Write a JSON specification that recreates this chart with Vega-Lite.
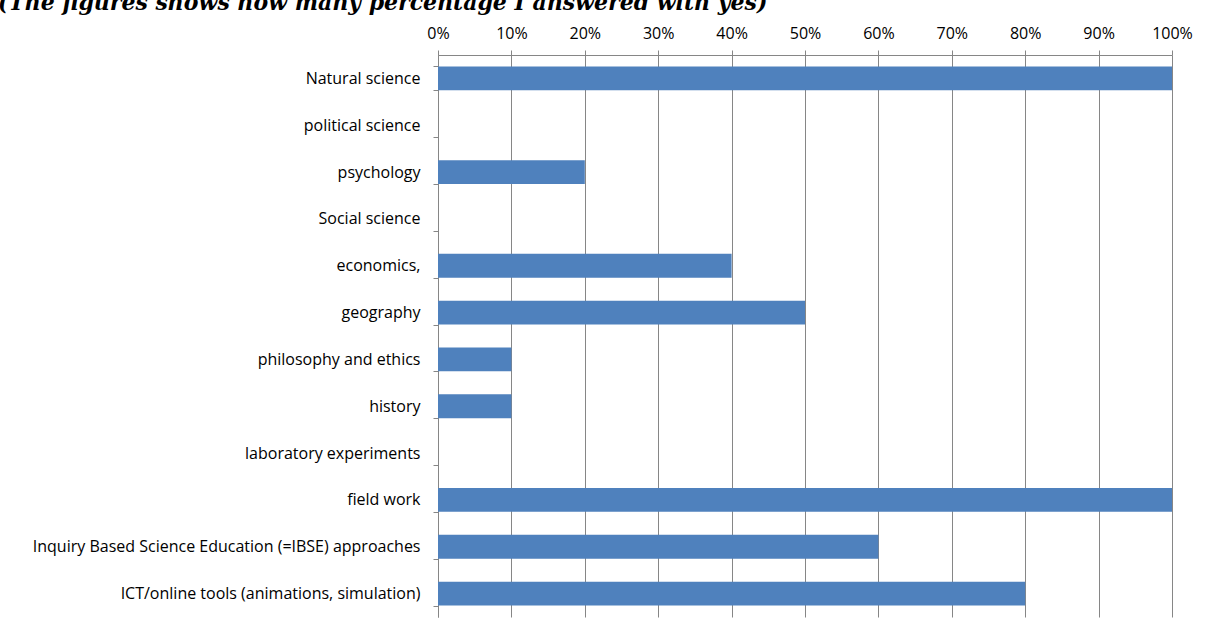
{
  "$schema": "https://vega.github.io/schema/vega-lite/v6.json",
  "autosize": "none",
  "width": 734,
  "height": 562,
  "padding": {"left": 438, "top": 55, "right": 35, "bottom": 11},
  "background": "white",
  "title": {
    "text": "(The figures shows how many percentage I answered with yes)",
    "anchor": "start",
    "frame": "group",
    "orient": "top",
    "dx": -440,
    "dy": 18,
    "offset": 11,
    "baseline": "alphabetic",
    "font": "DejaVu Serif",
    "fontSize": 22,
    "fontStyle": "italic",
    "fontWeight": "bold",
    "color": "#000000"
  },
  "data": {
    "values": [
      {"category": "Natural science", "share": 1.0},
      {"category": "political science", "share": 0},
      {"category": "psychology", "share": 0.2},
      {"category": "Social science", "share": 0},
      {"category": "economics,", "share": 0.4},
      {"category": "geography", "share": 0.5},
      {"category": "philosophy and ethics", "share": 0.1},
      {"category": "history", "share": 0.1},
      {"category": "laboratory experiments ", "share": 0},
      {"category": "field work ", "share": 1.0},
      {"category": "Inquiry Based Science Education (=IBSE) approaches ", "share": 0.6},
      {"category": "ICT/online tools (animations, simulation)", "share": 0.8}
    ]
  },
  "mark": {"type": "bar", "color": "#4F81BD"},
  "encoding": {
    "y": {
      "field": "category",
      "type": "nominal",
      "sort": null,
      "title": null,
      "scale": {"paddingInner": 0.49, "paddingOuter": 0.245},
      "axis": {
        "tickBand": "extent",
        "ticks": true,
        "tickSize": 5,
        "tickColor": "#868686",
        "domainColor": "#868686",
        "labelPadding": 13,
        "labelFont": "Open Sans",
        "labelFontSize": 16,
        "labelColor": "#000000",
        "labelLimit": 500,
        "grid": false
      }
    },
    "x": {
      "field": "share",
      "type": "quantitative",
      "title": null,
      "scale": {"domain": [0, 1], "nice": false},
      "axis": {
        "orient": "top",
        "format": ".0%",
        "values": [0, 0.1, 0.2, 0.3, 0.4, 0.5, 0.6, 0.7, 0.8, 0.9, 1.0],
        "grid": true,
        "gridColor": "#868686",
        "gridOpacity": 1,
        "tickColor": "#868686",
        "tickSize": 5,
        "domainColor": "#868686",
        "labelPadding": 9,
        "labelFlush": false,
        "labelOverlap": false,
        "labelFont": "Open Sans",
        "labelFontSize": 16,
        "labelColor": "#000000"
      }
    }
  },
  "config": {"view": {"stroke": null}}
}
